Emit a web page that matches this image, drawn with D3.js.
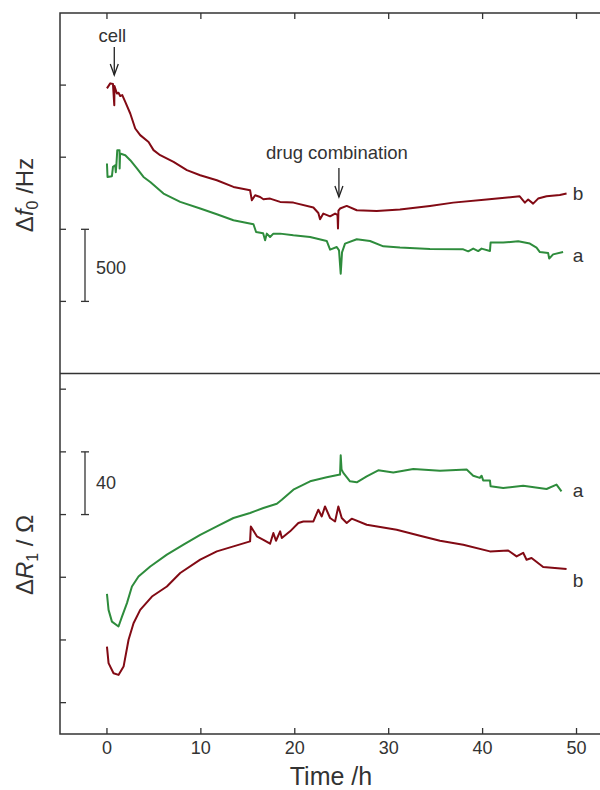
<!DOCTYPE html>
<html>
<head>
	<script src="https://cdn.jsdelivr.net/npm/d3@7"></script>
	<style>
		body { margin: 0; background: white; }
		text { font-family: "Liberation Sans", Arial, sans-serif; fill: #333; }
	</style>
</head>
<body>
	<script>
		// time axis ticks (h)
		var timeTicks = [0, 10, 20, 30, 40, 50];
		// frequency shift ticks (Hz) and resistance ticks (Ohm), unlabeled
		var freqTicks = [0, -500, -1000, -1500];
		var resTicks = [0, 40, 80, 120, 160, 200];

		// delta f0, curve a (green)
		var freqTimeA = [0, 0.06, 0.53, 0.64, 0.88, 0.94, 1.0, 1.1, 1.34, 1.35, 1.4, 1.95, 2.48, 3.19, 3.89, 4.61, 6.02, 7.8, 9.93, 11.7, 13.47, 15.6, 15.88, 16.63, 16.84, 17.02, 17.37, 17.72, 18.44, 19.85, 21.63, 23.4, 23.76, 24.47, 24.71, 24.89, 25.03, 25.35, 26.6, 28.01, 29.43, 31.2, 34.39, 37.94, 38.47, 39.0, 39.53, 39.89, 40.78, 40.85, 42.19, 43.79, 45.03, 45.74, 46.1, 46.98, 47.09, 47.51, 48.57];
		var freqA = [-544, -637, -632, -567, -556, -604, -556, -451, -451, -578, -474, -486, -521, -578, -637, -672, -752, -810, -856, -896, -937, -965, -1019, -1028, -1076, -1030, -1053, -1030, -1030, -1042, -1053, -1081, -1141, -1123, -1146, -1308, -1160, -1099, -1069, -1081, -1118, -1127, -1137, -1139, -1153, -1134, -1151, -1134, -1151, -1092, -1092, -1083, -1099, -1127, -1158, -1165, -1203, -1174, -1158];

		// delta f0, curve b (dark red)
		var freqTimeB = [0, 0.35, 0.64, 0.78, 0.8, 1.06, 1.23, 1.41, 1.63, 1.95, 2.48, 3.01, 3.54, 4.43, 4.96, 5.67, 7.09, 8.51, 9.93, 11.7, 13.47, 15.24, 15.43, 15.78, 16.31, 16.66, 17.37, 18.44, 19.85, 21.98, 22.51, 22.69, 23.04, 23.76, 24.29, 24.55, 24.6, 24.65, 24.82, 25.53, 26.6, 28.72, 31.2, 34.39, 36.87, 40.43, 43.95, 44.5, 44.85, 45.38, 45.91, 46.81, 48.22, 48.94];
		var freqB = [-23, 12, 7, -139, -7, -58, -53, -76, -69, -116, -197, -301, -347, -394, -451, -486, -533, -590, -625, -660, -706, -729, -799, -764, -776, -792, -787, -810, -815, -849, -887, -931, -891, -910, -891, -900, -995, -870, -856, -838, -868, -873, -863, -838, -815, -794, -771, -815, -794, -822, -787, -771, -762, -752];

		// delta R1, curve a (green)
		var resTimeA = [0, 0.17, 0.53, 1.23, 1.6, 2.13, 2.66, 3.36, 4.61, 6.38, 8.15, 9.93, 11.7, 13.47, 15.24, 16.66, 18.09, 18.62, 19.85, 21.63, 23.4, 24.82, 24.89, 24.98, 25.17, 25.88, 26.6, 27.66, 28.89, 30.49, 32.62, 35.46, 38.3, 39.0, 39.71, 39.89, 40.06, 40.78, 40.85, 42.19, 44.32, 46.81, 47.87, 48.4];
		var resA = [69.4, 59.2, 51.7, 48.6, 54.9, 63.5, 74.1, 80.5, 86.9, 94.4, 100.8, 107.1, 112.4, 117.8, 121, 124.2, 126.9, 129.5, 135.9, 141.2, 143.8, 145.5, 157.8, 148.7, 146.6, 141.2, 140.6, 144.4, 148.2, 146.9, 149.1, 148, 148.7, 144.8, 143.4, 144.8, 141.8, 141.8, 138, 137, 138.4, 136.3, 139.1, 134.8];

		// delta R1, curve b (dark red)
		var resTimeB = [0, 0.17, 0.7, 1.23, 1.77, 2.3, 2.83, 3.54, 4.79, 6.38, 7.8, 9.93, 11.7, 13.47, 15.24, 15.32, 15.96, 16.66, 17.37, 17.72, 18.0, 18.44, 18.62, 19.5, 20.38, 20.91, 21.98, 22.51, 22.87, 23.22, 23.76, 24.29, 24.64, 25.0, 25.53, 26.06, 27.66, 30.85, 33.33, 35.46, 37.94, 40.78, 42.72, 43.62, 44.32, 44.68, 45.21, 46.45, 48.94];
		var resB = [35.8, 25.2, 18.8, 17.7, 23, 40.1, 50.7, 59.2, 67.7, 74.1, 82.7, 91.2, 96.5, 99.7, 102.9, 112.4, 106.1, 103.9, 101.4, 108.2, 103.3, 109.3, 105, 109.3, 114.6, 115.6, 115.6, 123.1, 118.8, 125.2, 117.8, 115.6, 125.2, 117.8, 114.6, 117.4, 113.5, 110.3, 106.5, 103.3, 100.8, 96.5, 97.1, 93.3, 95.6, 91.2, 92.3, 86.5, 85.2];

		var width = 600, height = 790;
		var left = 60, right = 600;
		var topY = 13, midY = 373.5, bottomY = 734;
		var red = '#820a14', green = '#2e8c3c', axisColor = '#333';

		var svg = d3.select('body').append('svg')
			.attr('width', width)
			.attr('height', height);

		var x = d3.scaleLinear().domain([-5, 52.5]).range([left, right]);
		var yF = d3.scaleLinear().domain([-2000, 500]).range([midY, topY]);
		var yR = d3.scaleLinear().domain([-20, 210]).range([bottomY, midY]);

		// frame
		svg.append('path')
			.attr('d', 'M' + right + ',' + topY + 'H' + left + 'V' + bottomY + 'H' + right + 'M' + left + ',' + midY + 'H' + right)
			.attr('fill', 'none')
			.attr('stroke', axisColor)
			.attr('stroke-width', 1.5);

		// ticks: top edge, bottom axis, left sides (all inward)
		var tickLen = 6;
		var ticks = svg.append('g').attr('stroke', axisColor).attr('stroke-width', 1.3);
		timeTicks.forEach(function (t) {
			ticks.append('line').attr('x1', x(t)).attr('x2', x(t)).attr('y1', topY).attr('y2', topY + tickLen);
			ticks.append('line').attr('x1', x(t)).attr('x2', x(t)).attr('y1', bottomY).attr('y2', bottomY - tickLen);
		});
		freqTicks.forEach(function (v) {
			ticks.append('line').attr('x1', left).attr('x2', left + tickLen).attr('y1', yF(v)).attr('y2', yF(v));
		});
		resTicks.forEach(function (v) {
			ticks.append('line').attr('x1', left).attr('x2', left + tickLen).attr('y1', yR(v)).attr('y2', yR(v));
		});

		svg.append('g').selectAll('text')
			.data(timeTicks)
			.enter().append('text')
			.attr('x', function (d) { return x(d); })
			.attr('y', 754)
			.attr('text-anchor', 'middle')
			.style('font-size', '18px')
			.text(function (d) { return d; });

		// curves
		function drawCurve(times, values, y, color) {
			var line = d3.line()
				.x(function (d) { return x(d[0]); })
				.y(function (d) { return y(d[1]); });
			svg.append('path')
				.datum(d3.zip(times, values))
				.attr('d', line)
				.attr('fill', 'none')
				.attr('stroke', color)
				.attr('stroke-width', 2)
				.attr('stroke-linejoin', 'round');
		}
		drawCurve(freqTimeA, freqA, yF, green);
		drawCurve(freqTimeB, freqB, yF, red);
		drawCurve(resTimeA, resA, yR, green);
		drawCurve(resTimeB, resB, yR, red);

		// curve letters
		function letter(t, yPos, s) {
			svg.append('text').attr('x', x(t)).attr('y', yPos)
				.style('font-size', '19px').text(s);
		}
		letter(49.6, 200, 'b');
		letter(49.6, 262, 'a');
		letter(49.6, 497, 'a');
		letter(49.6, 587, 'b');

		// scale bars
		function scaleBar(y1, y2, label, labelY) {
			var bx = 85;
			var g = svg.append('g').attr('stroke', axisColor).attr('stroke-width', 1.3);
			g.append('line').attr('x1', bx).attr('x2', bx).attr('y1', y1).attr('y2', y2);
			g.append('line').attr('x1', bx - 4).attr('x2', bx + 4).attr('y1', y1).attr('y2', y1);
			g.append('line').attr('x1', bx - 4).attr('x2', bx + 4).attr('y1', y2).attr('y2', y2);
			svg.append('text').attr('x', 96).attr('y', labelY)
				.style('font-size', '18px').text(label);
		}
		scaleBar(yF(-1000), yF(-1500), '500', 274);
		scaleBar(yR(160), yR(120), '40', 489);

		// annotation arrows
		function arrow(t, y1, y2, label, labelY) {
			var ax = x(t);
			var g = svg.append('g').attr('stroke', '#222').attr('stroke-width', 1.3).attr('fill', 'none');
			g.append('line').attr('x1', ax).attr('x2', ax).attr('y1', y1).attr('y2', y2);
			g.append('path').attr('d', 'M' + (ax - 4) + ',' + (y2 - 11) + 'L' + ax + ',' + y2 + 'L' + (ax + 4) + ',' + (y2 - 11));
			svg.append('text').attr('x', ax - 2).attr('y', labelY)
				.attr('text-anchor', 'middle')
				.style('font-size', '18.5px').text(label);
		}
		arrow(0.78, 47, 75, 'cell', 42);
		arrow(24.7, 168, 197, 'drug combination', 159);

		// axis titles
		var tF = svg.append('text')
			.attr('transform', 'translate(33,195) rotate(-90)')
			.attr('text-anchor', 'middle')
			.style('font-size', '24px');
		tF.append('tspan').text('\u0394');
		tF.append('tspan').style('font-style', 'italic').text('f');
		tF.append('tspan').attr('dy', 5).style('font-size', '16px').text('0');
		tF.append('tspan').attr('dy', -5).text(' /Hz');

		var tR = svg.append('text')
			.attr('transform', 'translate(33,555) rotate(-90)')
			.attr('text-anchor', 'middle')
			.style('font-size', '24px');
		tR.append('tspan').text('\u0394');
		tR.append('tspan').style('font-style', 'italic').text('R');
		tR.append('tspan').attr('dy', 5).style('font-size', '16px').text('1');
		tR.append('tspan').attr('dy', -5).text(' / \u03a9');

		svg.append('text')
			.attr('x', 331)
			.attr('y', 785)
			.attr('text-anchor', 'middle')
			.style('font-size', '25px')
			.text('Time /h');
	</script>
</body>
</html>
